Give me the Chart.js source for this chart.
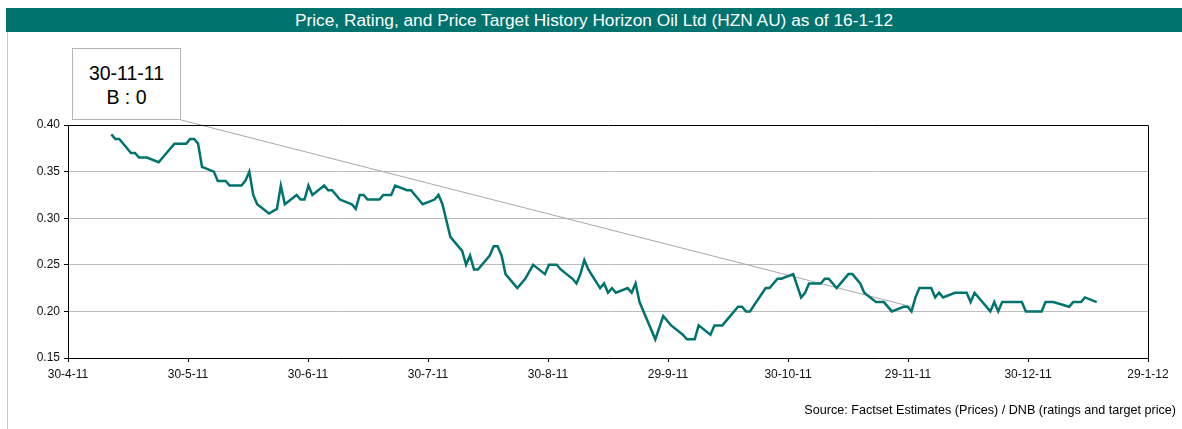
<!DOCTYPE html>
<html>
<head>
<meta charset="utf-8">
<title>HZN AU price history</title>
<script src="https://cdn.jsdelivr.net/npm/chart.js@4"></script>
<style>
    html, body { margin: 0; padding: 0; background: #fff; }
    body { width: 1182px; height: 429px; position: relative; overflow: hidden; font-family: "Liberation Sans", Arial, sans-serif; }
    #chart { position: absolute; left: 0; top: 0; }
    #titleBar { position: absolute; left: 6px; top: 8px; width: 1176px; height: 24px; background: #00736e; color: #fff; font-size: 17.3px; line-height: 24px; text-align: center; }
    #leftRule { position: absolute; left: 7px; top: 32px; width: 1px; height: 397px; background: #c8c8c8; }
    #ratingBox { position: absolute; left: 72px; top: 48px; width: 109px; height: 72px; box-sizing: border-box; border: 1px solid #b4b4b4; background: #fff; font-size: 19.5px; line-height: 24px; text-align: center; padding-top: 12px; color: #000; }
    #source { position: absolute; right: 6px; top: 403px; font-size: 12.6px; color: #000; }
</style>
</head>
<body>
<div id="titleBar">Price, Rating, and Price Target History Horizon Oil Ltd (HZN AU) as of 16-1-12</div>
<div id="leftRule"></div>
<canvas id="chart" width="1182" height="429"></canvas>
<div id="ratingBox">30-11-11<br>B : 0</div>
<div id="source">Source: Factset Estimates (Prices) / DNB (ratings and target price)</div>
<script>
// days counted from 30-4-11
const tickLabels = ['30-4-11', '30-5-11', '30-6-11', '30-7-11', '30-8-11', '29-9-11', '30-10-11', '29-11-11', '30-12-11', '29-1-12'];
const axisDays = 274;

const priceDays = [
    11, 12, 13, 16, 17, 18, 20, 23, 27, 30, 31, 32, 33, 34, 37, 38, 40, 41, 44, 45,
    46, 47, 48, 51, 53, 54, 55, 58, 59, 60, 61, 62, 65, 66, 67, 69, 72, 73, 74, 75,
    76, 79, 80, 82, 83, 86, 87, 90, 93, 94, 95, 97, 100, 101, 102, 103, 104, 107, 108, 109,
    110, 111, 114, 116, 118, 121, 122, 124, 125, 128, 129, 130, 131, 132, 135, 136, 137, 138, 139, 142,
    143, 144, 145, 149, 151, 153, 156, 157, 159, 160, 163, 164, 166, 170, 171, 172, 173, 177, 178, 180,
    181, 184, 186, 187, 188, 191, 192, 193, 195, 198, 199, 201, 202, 205, 207, 209, 212, 213, 214, 215,
    216, 219, 220, 221, 222, 225, 228, 229, 230, 234, 235, 236, 237, 242, 243, 247, 248, 250, 254, 255,
    257, 258, 261
];
const prices = [
    0.390, 0.385, 0.385, 0.370, 0.370, 0.365, 0.365, 0.360, 0.380, 0.380, 0.385, 0.385, 0.380, 0.355, 0.350, 0.340, 0.340, 0.335, 0.335, 0.340,
    0.350, 0.325, 0.315, 0.305, 0.310, 0.335, 0.315, 0.325, 0.320, 0.320, 0.335, 0.325, 0.335, 0.330, 0.330, 0.320, 0.315, 0.310, 0.325, 0.325,
    0.320, 0.320, 0.325, 0.325, 0.335, 0.330, 0.330, 0.315, 0.320, 0.325, 0.315, 0.280, 0.265, 0.250, 0.260, 0.245, 0.245, 0.260, 0.270, 0.270,
    0.260, 0.240, 0.225, 0.235, 0.250, 0.240, 0.250, 0.250, 0.245, 0.235, 0.230, 0.240, 0.255, 0.245, 0.225, 0.230, 0.220, 0.225, 0.220, 0.225,
    0.220, 0.230, 0.210, 0.170, 0.195, 0.185, 0.175, 0.170, 0.170, 0.185, 0.175, 0.185, 0.185, 0.205, 0.205, 0.200, 0.200, 0.225, 0.225, 0.235,
    0.235, 0.240, 0.215, 0.220, 0.230, 0.230, 0.235, 0.235, 0.225, 0.240, 0.240, 0.230, 0.220, 0.210, 0.210, 0.200, 0.205, 0.205, 0.200, 0.215,
    0.225, 0.225, 0.215, 0.220, 0.215, 0.220, 0.220, 0.210, 0.220, 0.200, 0.210, 0.200, 0.210, 0.210, 0.200, 0.200, 0.210, 0.210, 0.205, 0.210,
    0.210, 0.215, 0.210
];

// rating call on 30-11-11
const ratingDay = 214;
const ratingPrice = 0.205;

const teal = '#00736e';
const boxCorner = { x: 181, y: 120 };

const framePlugin = {
    id: 'frame',
    beforeDatasetsDraw(chart) {
        const ctx = chart.ctx;
        const x = chart.scales.x;
        const y = chart.scales.y;
        ctx.save();
        ctx.strokeStyle = '#a8a8a8';
        ctx.lineWidth = 1;
        ctx.beginPath();
        ctx.moveTo(boxCorner.x, boxCorner.y);
        ctx.lineTo(x.getPixelForValue(ratingDay), y.getPixelForValue(ratingPrice));
        ctx.stroke();
        ctx.restore();
    },
    afterDraw(chart) {
        const a = chart.chartArea;
        const ctx = chart.ctx;
        ctx.save();
        ctx.strokeStyle = '#000';
        ctx.lineWidth = 1;
        ctx.beginPath();
        ctx.moveTo(Math.round(a.left) + 0.5, Math.round(a.top) + 0.5);
        ctx.lineTo(Math.round(a.right) + 0.5, Math.round(a.top) + 0.5);
        ctx.lineTo(Math.round(a.right) + 0.5, Math.round(a.bottom) + 0.5);
        ctx.stroke();
        ctx.restore();
    }
};

new Chart(document.getElementById('chart').getContext('2d'), {
    type: 'line',
    data: {
        datasets: [{
            label: 'Price',
            data: priceDays.map((d, i) => ({ x: d, y: prices[i] })),
            borderColor: teal,
            borderWidth: 2.5,
            pointRadius: 0,
            tension: 0,
            fill: false
        }]
    },
    options: {
        responsive: false,
        animation: false,
        devicePixelRatio: 1,
        layout: { padding: { left: 0, right: 34, top: 125, bottom: 43 } },
        plugins: { legend: { display: false }, tooltip: { enabled: false }, title: { display: false } },
        scales: {
            x: {
                type: 'linear',
                min: 0,
                max: axisDays,
                afterBuildTicks: function (scale) {
                    scale.ticks = tickLabels.map((_, i) => ({ value: axisDays * i / (tickLabels.length - 1) }));
                },
                afterFit: function (scale) { scale.height = 28; },
                ticks: {
                    autoSkip: false,
                    maxRotation: 0,
                    padding: 5,
                    color: '#111',
                    font: { family: '"Liberation Sans", Arial, sans-serif', size: 12 },
                    callback: function (value, index) { return tickLabels[index]; }
                },
                grid: { drawOnChartArea: false, tickLength: 4, tickColor: '#000', color: '#000' },
                border: { color: '#000', width: 1 }
            },
            y: {
                min: 0.15,
                max: 0.40,
                afterFit: function (scale) { scale.width = 68; },
                ticks: {
                    stepSize: 0.05,
                    padding: 4,
                    color: '#111',
                    font: { family: '"Liberation Sans", Arial, sans-serif', size: 12 },
                    callback: function (value) { return value.toFixed(2); }
                },
                grid: { color: '#bdbdbd', tickLength: 4, tickColor: '#000' },
                border: { color: '#000', width: 1 }
            }
        }
    },
    plugins: [framePlugin]
});
</script>
</body>
</html>
